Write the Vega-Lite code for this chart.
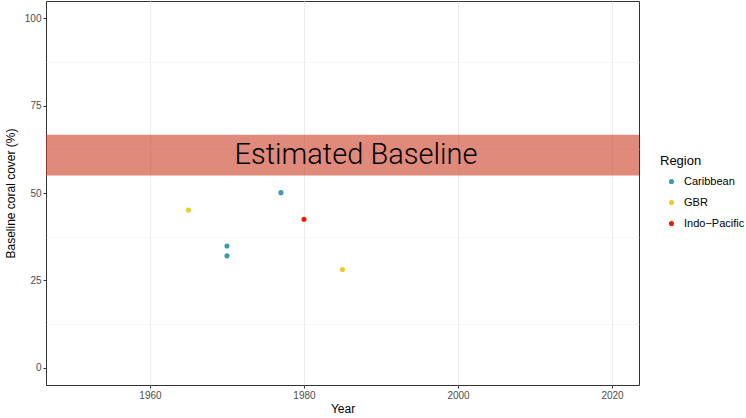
{
  "$schema": "https://vega.github.io/schema/vega-lite/v6.json",
  "width": 593,
  "height": 384,
  "autosize": {"type": "none"},
  "padding": {"left": 46, "top": 1, "right": 107, "bottom": 33},
  "background": "white",
  "config": {
    "font": "Liberation Sans",
    "view": {"stroke": "#333333", "strokeWidth": 1},
    "axis": {
      "labelFont": "Liberation Sans",
      "titleFont": "Liberation Sans",
      "labelFontSize": 10,
      "labelColor": "#4D4D4D",
      "titleFontSize": 12,
      "titleFontWeight": "normal",
      "titleColor": "#000000",
      "tickColor": "#333333",
      "tickSize": 3,
      "labelPadding": 2,
      "domain": false,
      "gridColor": "#EBEBEB",
      "gridWidth": 1
    }
  },
  "layer": [
    {
      "data": {"values": [{"ymin": 55, "ymax": 66.7}]},
      "mark": {"type": "rect", "fill": "#CB3C24", "opacity": 0.6},
      "encoding": {
        "x": {"value": 0},
        "x2": {"value": "width"},
        "y": {"field": "ymin", "type": "quantitative", "scale": {"domain": [-5, 105], "nice": false, "zero": false},
          "axis": {"orient": "left", "title": null, "values": [12.5, 37.5, 62.5, 87.5], "labels": false, "ticks": false, "gridWidth": 0.6, "gridColor": "#F2F2F2"}},
        "y2": {"field": "ymax"}
      }
    },
    {
      "data": {"values": [
        {"Year": 1965, "Cover": 45.1, "Region": "GBR"},
        {"Year": 1970, "Cover": 34.8, "Region": "Caribbean"},
        {"Year": 1970, "Cover": 32.0, "Region": "Caribbean"},
        {"Year": 1977, "Cover": 50.1, "Region": "Caribbean"},
        {"Year": 1980, "Cover": 42.5, "Region": "Indo−Pacific"},
        {"Year": 1985, "Cover": 28.1, "Region": "GBR"}
      ]},
      "mark": {"type": "point", "filled": true, "opacity": 1, "size": 26},
      "encoding": {
        "x": {"field": "Year", "type": "quantitative", "scale": {"domain": [1946.5, 2023.5], "nice": false, "zero": false},
          "axis": {"orient": "bottom", "title": "Year", "values": [1960, 1980, 2000, 2020], "format": "d", "titlePadding": 3}},
        "y": {"field": "Cover", "type": "quantitative",
          "axis": {"orient": "left", "title": "Baseline coral cover (%)", "values": [0, 25, 50, 75, 100], "titlePadding": 7}},
        "color": {"field": "Region", "type": "nominal",
          "scale": {"domain": ["Caribbean", "GBR", "Indo−Pacific"], "range": ["#3B9AB2", "#EBCC2A", "#F21A00"]},
          "legend": {"title": "Region", "orient": "none", "legendX": 614, "legendY": 154,
            "titleFontSize": 13, "titleFontWeight": "normal", "titleColor": "#000000", "titleFont": "Liberation Sans",
            "labelFontSize": 11, "labelColor": "#000000", "labelFont": "Liberation Sans",
            "symbolSize": 26, "symbolType": "circle", "symbolOffset": 6, "rowPadding": 9, "titlePadding": 8, "labelOffset": 7}}
      }
    },
    {
      "data": {"values": [{"Year": 1986.75, "Cover": 60.8, "Label": "Estimated Baseline"}]},
      "mark": {"type": "text", "font": "Roboto", "fontWeight": 300, "fontSize": 29, "color": "#000000", "baseline": "middle", "align": "center"},
      "encoding": {
        "x": {"field": "Year", "type": "quantitative",
          "axis": {"orient": "bottom", "title": null, "values": [1950, 1970, 1990, 2010], "labels": false, "ticks": false, "gridWidth": 0.6, "gridColor": "#F2F2F2"}},
        "y": {"field": "Cover", "type": "quantitative", "axis": null},
        "text": {"field": "Label"}
      }
    }
  ],
  "resolve": {"axis": {"x": "independent", "y": "independent"}}
}
